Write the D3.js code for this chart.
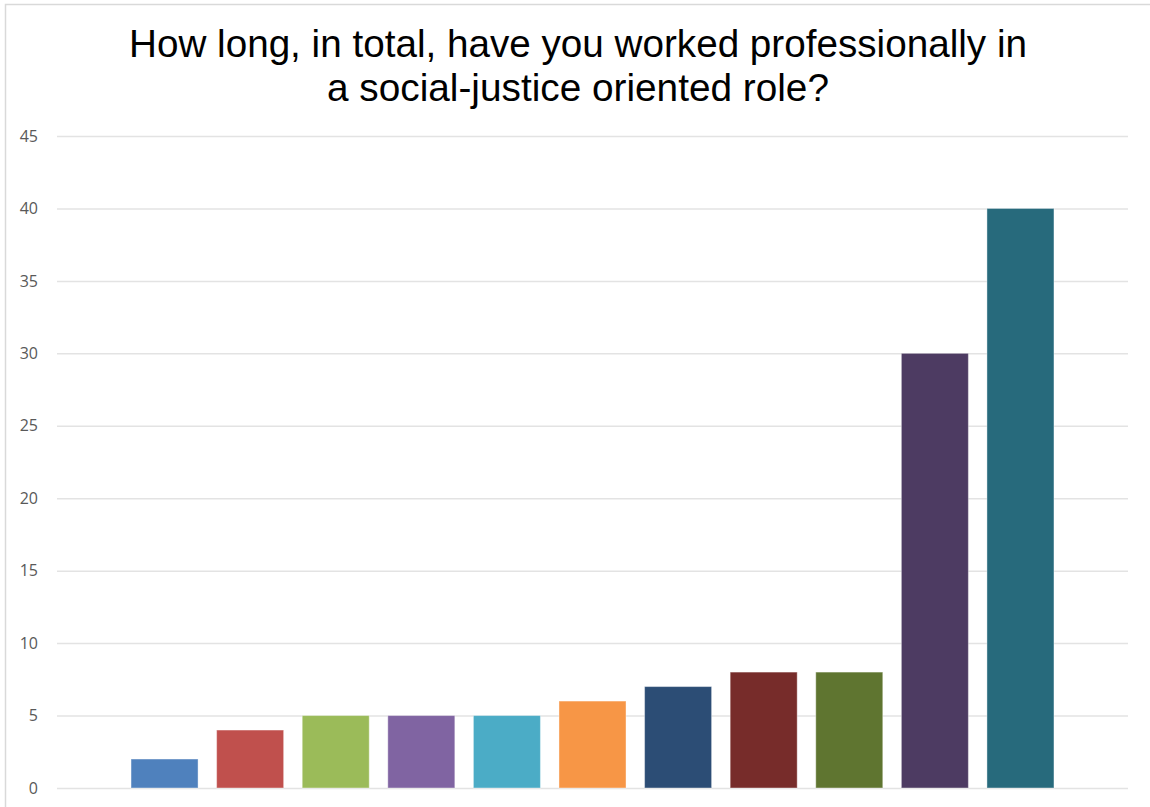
<!DOCTYPE html>
<html>
<head>
<meta charset="utf-8">
<script src="https://cdnjs.cloudflare.com/ajax/libs/d3/7.8.5/d3.min.js"></script>
<style>
	html, body { margin: 0; padding: 0; background: #fff; }
	svg { display: block; }
</style>
</head>
<body>
<div id="chart"></div>
<script>
//	data
var categories = ["A", "B", "C", "D", "E", "F", "G", "H", "I", "J", "K"];
var values = [2, 4, 5, 5, 5, 6, 7, 8, 8, 30, 40];
var colors = ["#4f81bd", "#c0504d", "#9bbb59", "#8064a2", "#4bacc6", "#f79646",
	"#2c4d75", "#772c2a", "#5f7530", "#4d3b62", "#276a7c"];
var yTicks = [0, 5, 10, 15, 20, 25, 30, 35, 40, 45];
var titleLines = ["How long, in total, have you worked professionally in",
	"a social-justice oriented role?"];

var width = 1150;
var height = 807;

var svg = d3.select("#chart")
	.append("svg")
	.attr("width", width)
	.attr("height", height);

// chart border (only left and top edges show in the picture)
svg.append("path")
	.attr("d", "M5.5,807 V4.5 H1150")
	.style("fill", "none")
	.style("stroke", "#d9d9d9")
	.style("stroke-width", 1.5);

// title
svg.selectAll(".title")
	.data(titleLines)
	.enter().append("text")
	.attr("class", "title")
	.attr("x", 578)
	.attr("y", function(d, i) { return 57 + i * 44; })
	.attr("text-anchor", "middle")
	.style("font-family", "'Liberation Sans', Arial, sans-serif")
	.style("font-size", "39px")
	.style("fill", "#000")
	.attr("textLength", function(d, i) { return i === 0 ? 898 : 502; })
	.attr("lengthAdjust", "spacingAndGlyphs")
	.text(function(d) { return d; });

var x = d3.scaleBand()
	.domain(categories)
	.range([57, 1128])
	.paddingInner(0.217)
	.paddingOuter(0.865);

var y = d3.scaleLinear()
	.domain([0, 45])
	.range([788, 136]);

// gridlines
var yAxis = d3.axisLeft(y)
	.tickValues(yTicks)
	.tickSize(-(1128 - 57))
	.tickPadding(19)
	.tickFormat(d3.format("d"));

var gy = svg.append("g")
	.attr("transform", "translate(57,0)")
	.call(yAxis);

gy.select(".domain").remove();
gy.selectAll(".tick line")
	.style("stroke", "#e3e3e3")
	.style("stroke-width", 1.5);
gy.selectAll(".tick text")
	.style("font-family", "'Open Sans', 'Liberation Sans', sans-serif")
	.style("font-size", "16px")
	.style("fill", "#595959");

// bars
svg.selectAll(".bar")
	.data(values)
	.enter().append("rect")
	.attr("class", "bar")
	.attr("x", function(d, i) { return x(categories[i]); })
	.attr("y", function(d) { return y(d); })
	.attr("width", x.bandwidth())
	.attr("height", function(d) { return y(0) - y(d); })
	.style("fill", function(d, i) { return colors[i]; })
	.style("stroke", "#ffffff")
	.style("stroke-opacity", 0.4)
	.style("stroke-width", 1);
</script>
</body>
</html>
